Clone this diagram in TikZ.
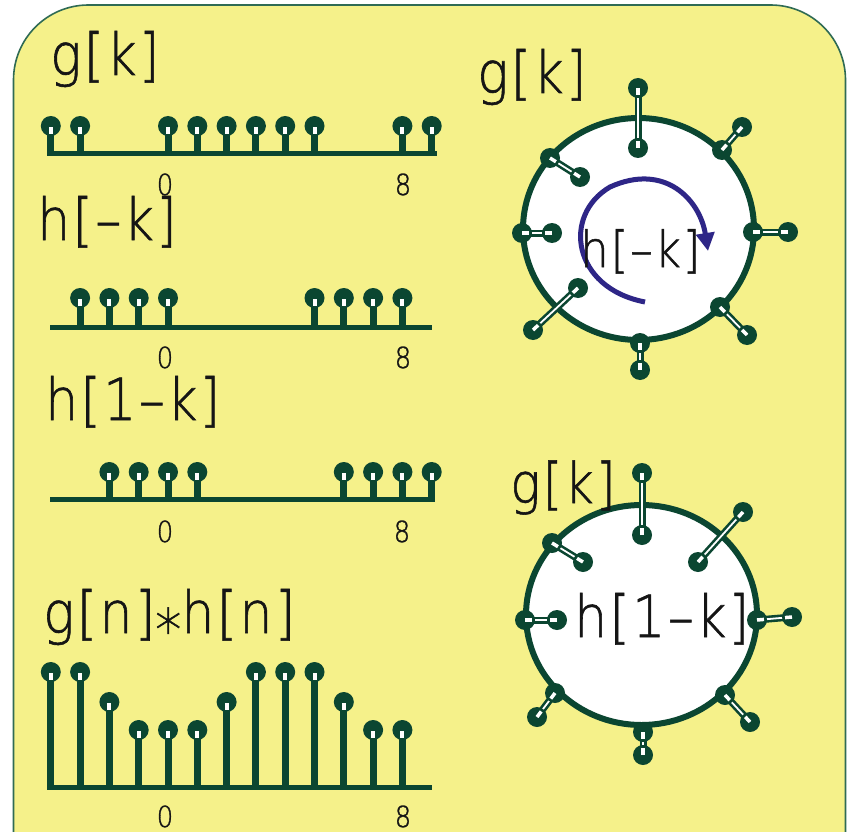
\documentclass[tikz,border=0pt]{standalone}
\usepackage{fontspec}
\usetikzlibrary{calc,arrows.meta}
\newfontfamily\lblfont[FakeStretch=0.9, LetterSpace=4, FakeBold=1]{DejaVu Sans ExtraLight}
\newfontfamily\tickfont[FakeStretch=0.9, FakeBold=1]{DejaVu Sans ExtraLight}
\definecolor{dkg}{HTML}{0B4631}
\definecolor{ylw}{HTML}{F5F18A}
\definecolor{bord}{HTML}{2F6B54}
\definecolor{purp}{HTML}{2E2687}
\definecolor{txt}{HTML}{151515}
\tikzset{
  big/.style={font=\lblfont\fontsize{58}{60}\selectfont, text=txt, anchor=base west, inner sep=0pt},
  mid/.style={font=\lblfont\fontsize{50}{52}\selectfont, text=txt, anchor=base west, inner sep=0pt},
  tick/.style={font=\tickfont\fontsize{29}{30}\selectfont, text=txt, anchor=base, inner sep=0pt},
  axisline/.style={dkg, line width=5pt},
  stemline/.style={dkg, line width=7pt},
  ring/.style={dkg, line width=6pt, fill=white},
}
\newcommand\lstem[3]{%
  \draw[stemline] (#1,#2) -- (#1,#3);
  \fill[dkg] (#1,#3) circle (10pt);
  \fill[white] ({#1-2},{#3+1}) rectangle ({#1+2},{#3+8});
}
\newcommand\rstem[4]{%
  \draw[dkg, line width=7pt] (#1,#2) -- (#3,#4);
  \draw[white, line width=1.8pt] (#1,#2) -- (#3,#4);
  \fill[dkg] (#1,#2) circle (10pt);
  \fill[dkg] (#3,#4) circle (10pt);
  \draw[white, line width=3.5pt] (#1,#2) -- ($(#1,#2)!7pt!(#3,#4)$);
  \draw[white, line width=3.5pt] (#3,#4) -- ($(#3,#4)!7pt!(#1,#2)$);
}
\begin{document}
\begin{tikzpicture}[x=1pt, y=-1pt]
\useasboundingbox (0,0) rectangle (854,832);
\clip (0,0) rectangle (854,832);
\fill[white] (0,0) rectangle (854,832);
\draw[bord, line width=1.6pt, fill=ylw, rounded corners=75pt]
  (13.5,1000) -- (13.5,5) -- (845.5,5) -- (845.5,1000) -- cycle;

% ---- left stem plots ----
% row 1: g[k]
\draw[axisline] (47,154) -- (437,154);
\foreach \k in {-4,-3,0,1,2,3,4,5,8,9} {\lstem{168+29.3*\k}{154}{126}}
% row 2: h[-k]
\draw[axisline] (50,327) -- (432,327);
\foreach \k in {-3,-2,-1,0,5,6,7,8} {\lstem{168+29.3*\k}{327}{298}}
% row 3: h[1-k]
\draw[axisline] (50,499.5) -- (435,499.5);
\foreach \k in {-2,-1,0,1,6,7,8,9} {\lstem{168+29.3*\k}{499.5}{472}}
% row 4: convolution
\draw[axisline] (47,787) -- (432,787);
\foreach \k/\t in {-4/672,-3/672,-2/702,-1/730,0/730,1/730,2/702,3/672,4/672,5/672,6/702,7/730,8/730}
  {\lstem{168+29.3*\k}{787}{\t}}

% ---- left labels ----
\node[big] (lg) at (50,75) {g[k]};
\node[big] (lh1) at (37,240) {h[–k]};
\node[big] (lh2) at (45,420) {h[1–k]};
\node[big] (lc) at (43,633) {g[n]\raisebox{-0.3em}{*}h[n]};
\node[tick] (t10) at (165,195) {0};
\node[tick] (t18) at (403,195) {8};
\node[tick] (t20) at (165,368) {0};
\node[tick] (t28) at (403,368) {8};
\node[tick] (t30) at (165,542) {0};
\node[tick] (t38) at (402,542) {8};
\node[tick] (t40) at (165,827) {0};
\node[tick] (t48) at (403,827) {8};

% ---- circle 1 ----
\draw[ring] (638.5,229) ellipse [x radius=115.5pt, y radius=111pt];
\rstem{638}{148}{638}{88}
\rstem{722}{150}{742}{127}
\rstem{753}{232}{788}{232}
\rstem{720}{307}{747}{335}
\rstem{640}{343}{640}{370}
\rstem{578}{288}{533}{330}
\rstem{552}{233}{522}{233}
\rstem{580}{177}{550}{158}
\draw[purp, line width=5pt, -{Triangle[length=18pt,width=18pt]}]
  (645,302) .. controls (572,288) and (562,215) .. (610,187)
  .. controls (665,162) and (700,200) .. (708,251);
\node[big] (rg1) at (477,93) {g[k]};
\node[mid] (rh1) at (580,267) {h[–k]};

% ---- circle 2 ----
\draw[ring] (641.5,615) ellipse [x radius=115.5pt, y radius=110pt];
\rstem{642}{535}{642}{473}
\rstem{698}{562}{743}{512}
\rstem{757}{620}{792}{617}
\rstem{725}{695}{750}{722}
\rstem{643}{732}{643}{755}
\rstem{555}{693}{537}{717}
\rstem{557}{620}{525}{620}
\rstem{583}{562}{552}{543}
\node[big, font=\lblfont\fontsize{56}{58}\selectfont] (rg2) at (510,503) {g[k]};
\node[big] (rh2) at (574,637) {h[1–k]};
\end{tikzpicture}
\end{document}
